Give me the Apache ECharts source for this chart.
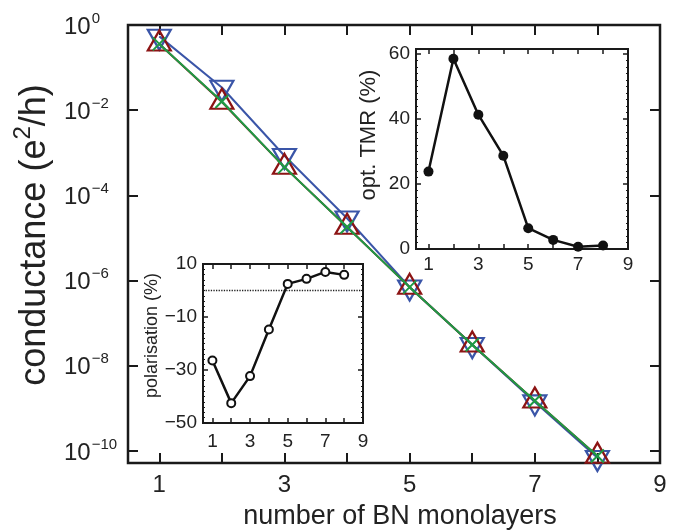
<!DOCTYPE html>
<html>
<head>
<meta charset="utf-8">
<script src="https://cdn.jsdelivr.net/npm/echarts@6/dist/echarts.min.js"></script>
<style>
html,body{margin:0;padding:0;background:#fff;}
#chart{width:681px;height:530px;}
</style>
</head>
<body>
<div id="chart"></div>
<script>
// ---- data ----
const layers = [1, 2, 3, 4, 5, 6, 7, 8];
const condBlue  = [0.54, 0.034, 8.5e-4, 2.9e-5, 7.0e-7, 3.1e-8, 1.4e-9, 6.9e-11];
const condRed   = [0.36, 0.0155, 4.6e-4, 1.8e-5, 7.0e-7, 3.1e-8, 1.5e-9, 7.6e-11];
const condGreen = [0.36, 0.0160, 4.6e-4, 1.8e-5, 7.0e-7, 3.1e-8, 1.5e-9, 7.6e-11];
const tmrVals = [23.8, 58.5, 41.3, 28.7, 6.4, 2.8, 0.7, 1.1];
const polVals = [-26.4, -42.5, -32.3, -14.7, 2.5, 4.4, 7.0, 5.9];
const mainYTicks = [1e-10, 1e-8, 1e-6, 1e-4, 1e-2, 1];
const xTicks = [1, 2, 3, 4, 5, 6, 7, 8, 9];
const xTickLabels = [1, 3, 5, 7, 9];

const FONT = 'Liberation Sans, Arial, Helvetica, sans-serif';
const TXT = '#222';
const FRAME = '#1a1a1a';

function pairs(vals) { return layers.map((x, i) => [x, vals[i]]); }
function expLabel(v) {
  const e = Math.round(Math.log10(v));
  return '{b|10}{s|' + (e < 0 ? '\u2212' + (-e) : String(e)) + '}';
}

const chart = echarts.init(document.getElementById('chart'), null, {renderer: 'canvas'});

const insetTick = (len) => ({show: true, inside: true, length: len, lineStyle: {color: FRAME, width: 1.5}});
const noLine = {show: false, onZero: false};

const option = {
  backgroundColor: '#fff',
  animation: false,
  textStyle: {fontFamily: FONT, color: TXT},
  grid: [
    {left: 128, top: 25, width: 532, height: 438, show: true, borderColor: FRAME, borderWidth: 2.5, backgroundColor: 'transparent', z: 0, containLabel: false, outerBoundsMode: 'none'},
    {left: 416, top: 49, width: 212, height: 200, show: true, borderColor: FRAME, borderWidth: 2, backgroundColor: '#fff', z: 5, containLabel: false, outerBoundsMode: 'none'},
    {left: 203, top: 264, width: 160, height: 159, show: true, borderColor: FRAME, borderWidth: 2, backgroundColor: '#fff', z: 5, containLabel: false, outerBoundsMode: 'none'}
  ],
  xAxis: [
    {
      type: 'value', gridIndex: 0, min: 0.5, max: 9,
      axisLine: noLine,
      splitLine: {show: false},
      axisTick: {show: true, inside: true, length: 10, customValues: xTicks, lineStyle: {color: FRAME, width: 2}},
      axisLabel: {customValues: xTickLabels, fontSize: 24, margin: 10, color: TXT, fontFamily: FONT},
      name: 'number of BN monolayers', nameLocation: 'middle', nameGap: 40,
      nameTextStyle: {fontSize: 27, color: TXT, fontFamily: FONT, padding: [0, 0, 0, 12]}
    },
    {
      type: 'value', gridIndex: 0, position: 'top', min: 0.5, max: 9,
      axisLine: noLine, splitLine: {show: false},
      axisTick: {show: true, inside: true, length: 10, customValues: xTicks, lineStyle: {color: FRAME, width: 2}},
      axisLabel: {show: false}
    },
    {
      type: 'value', gridIndex: 1, min: 0.5, max: 9, z: 6,
      axisLine: noLine, splitLine: {show: false},
      axisTick: Object.assign(insetTick(5), {customValues: xTicks}),
      axisLabel: {customValues: xTickLabels, fontSize: 19, margin: 6, color: TXT, fontFamily: FONT}
    },
    {
      type: 'value', gridIndex: 1, position: 'top', min: 0.5, max: 9, z: 6,
      axisLine: noLine, splitLine: {show: false},
      axisTick: Object.assign(insetTick(5), {customValues: xTicks}),
      axisLabel: {show: false}
    },
    {
      type: 'value', gridIndex: 2, min: 0.5, max: 9, z: 6,
      axisLine: noLine, splitLine: {show: false},
      axisTick: Object.assign(insetTick(5), {customValues: xTicks}),
      axisLabel: {customValues: xTickLabels, fontSize: 19, margin: 9, color: TXT, fontFamily: FONT}
    },
    {
      type: 'value', gridIndex: 2, position: 'top', min: 0.5, max: 9, z: 6,
      axisLine: noLine, splitLine: {show: false},
      axisTick: Object.assign(insetTick(5), {customValues: xTicks}),
      axisLabel: {show: false}
    }
  ],
  yAxis: [
    {
      type: 'log', logBase: 10, gridIndex: 0, min: 5.2e-11, max: 1,
      axisLine: noLine, splitLine: {show: false}, minorTick: {show: false},
      axisTick: {show: true, inside: true, length: 10, customValues: mainYTicks, lineStyle: {color: FRAME, width: 2}},
      axisLabel: {
        customValues: mainYTicks, formatter: expLabel, align: 'left', margin: 64,
        fontSize: 24, color: TXT, fontFamily: FONT,
        rich: {
          b: {fontSize: 24, padding: [4, 0, 0, 0], color: TXT, fontFamily: FONT},
          s: {fontSize: 15, verticalAlign: 'top', padding: [0, 0, 0, 1], color: TXT, fontFamily: FONT}
        }
      },
      name: '{n|conductance (e}{s|2}{n|/h)}', nameLocation: 'middle', nameGap: 72,
      nameTextStyle: {fontSize: 36, color: TXT, fontFamily: FONT, padding: [0, 0, 0, 18],
        rich: {
          n: {fontSize: 36, padding: [6, 0, 0, 0], color: TXT, fontFamily: FONT},
          s: {fontSize: 24, verticalAlign: 'top', color: TXT, fontFamily: FONT}
        }}
    },
    {
      type: 'log', logBase: 10, gridIndex: 0, position: 'right', min: 5.2e-11, max: 1,
      axisLine: noLine, splitLine: {show: false}, minorTick: {show: false},
      axisTick: {show: true, inside: true, length: 10, customValues: mainYTicks, lineStyle: {color: FRAME, width: 2}},
      axisLabel: {show: false}
    },
    {
      type: 'value', gridIndex: 1, min: 0, max: 61.5, interval: 20, z: 6,
      axisLine: noLine, splitLine: {show: false},
      axisTick: insetTick(5),
      minorTick: {show: true, splitNumber: 10, length: 2, lineStyle: {color: FRAME, width: 1}},
      axisLabel: {fontSize: 19, margin: 6, color: TXT, fontFamily: FONT},
      name: 'opt. TMR (%)', nameLocation: 'middle', nameGap: 36,
      nameTextStyle: {fontSize: 22, color: TXT, fontFamily: FONT, padding: [0, 0, 0, 28]}
    },
    {
      type: 'value', gridIndex: 1, position: 'right', min: 0, max: 61.5, interval: 20, z: 6,
      axisLine: noLine, splitLine: {show: false},
      axisTick: insetTick(5),
      minorTick: {show: true, splitNumber: 10, length: 2, lineStyle: {color: FRAME, width: 1}},
      axisLabel: {show: false}
    },
    {
      type: 'value', gridIndex: 2, min: -50, max: 10, interval: 20, z: 6,
      axisLine: noLine, splitLine: {show: false},
      axisTick: insetTick(5),
      minorTick: {show: true, splitNumber: 10, length: 2, lineStyle: {color: FRAME, width: 1}},
      axisLabel: {fontSize: 19, margin: 6, color: TXT, fontFamily: FONT,
        formatter: (v) => (v < 0 ? '\u2212' + (-v) : String(v))},
      name: 'polarisation (%)', nameLocation: 'middle', nameGap: 42,
      nameTextStyle: {fontSize: 18, color: TXT, fontFamily: FONT, padding: [0, 0, 0, 16]}
    },
    {
      type: 'value', gridIndex: 2, position: 'right', min: -50, max: 10, interval: 20, z: 6,
      axisLine: noLine, splitLine: {show: false},
      axisTick: insetTick(5),
      minorTick: {show: true, splitNumber: 10, length: 2, lineStyle: {color: FRAME, width: 1}},
      axisLabel: {show: false}
    }
  ],
  series: [
    {
      type: 'line', xAxisIndex: 0, yAxisIndex: 0, data: pairs(condBlue), clip: false, z: 2,
      color: '#3a55a8',
      lineStyle: {color: '#3a55a8', width: 2},
      symbol: 'triangle', symbolRotate: 180, symbolSize: [23, 20], symbolOffset: [0, 3.3],
      itemStyle: {color: 'rgba(255,255,255,0)', borderColor: '#3a55a8', borderWidth: 2.2}
    },
    {
      type: 'line', xAxisIndex: 0, yAxisIndex: 0, data: pairs(condRed), clip: false, z: 3,
      color: '#8c1414',
      lineStyle: {color: '#8c1414', width: 2},
      symbol: 'triangle', symbolSize: [23, 20], symbolOffset: [0, -3.3],
      itemStyle: {color: 'rgba(255,255,255,0)', borderColor: '#8c1414', borderWidth: 2.2}
    },
    {
      type: 'line', xAxisIndex: 0, yAxisIndex: 0, data: pairs(condGreen), clip: false, z: 4,
      color: '#1f9a45',
      lineStyle: {color: '#1f9a45', width: 2},
      symbol: 'path://M0,0L10,10M10,0L0,10', symbolSize: 13,
      itemStyle: {color: 'rgba(255,255,255,0)', borderColor: '#1f9a45', borderWidth: 2}
    },
    {
      type: 'line', xAxisIndex: 2, yAxisIndex: 2, data: pairs(tmrVals), z: 7,
      color: '#111',
      lineStyle: {color: '#111', width: 2.5},
      symbol: 'circle', symbolSize: 10,
      itemStyle: {color: '#111', borderColor: '#111', borderWidth: 0}
    },
    {
      type: 'line', xAxisIndex: 4, yAxisIndex: 4, data: pairs(polVals), z: 7,
      color: '#111',
      lineStyle: {color: '#111', width: 2.5},
      symbol: 'circle', symbolSize: 8,
      itemStyle: {color: '#fff', borderColor: '#111', borderWidth: 2},
      markLine: {
        silent: true, symbol: 'none', label: {show: false},
        lineStyle: {color: '#222', type: 'dotted', width: 1.3},
        data: [{yAxis: 0}]
      }
    }
  ]
};
chart.setOption(option);
</script>
</body>
</html>
